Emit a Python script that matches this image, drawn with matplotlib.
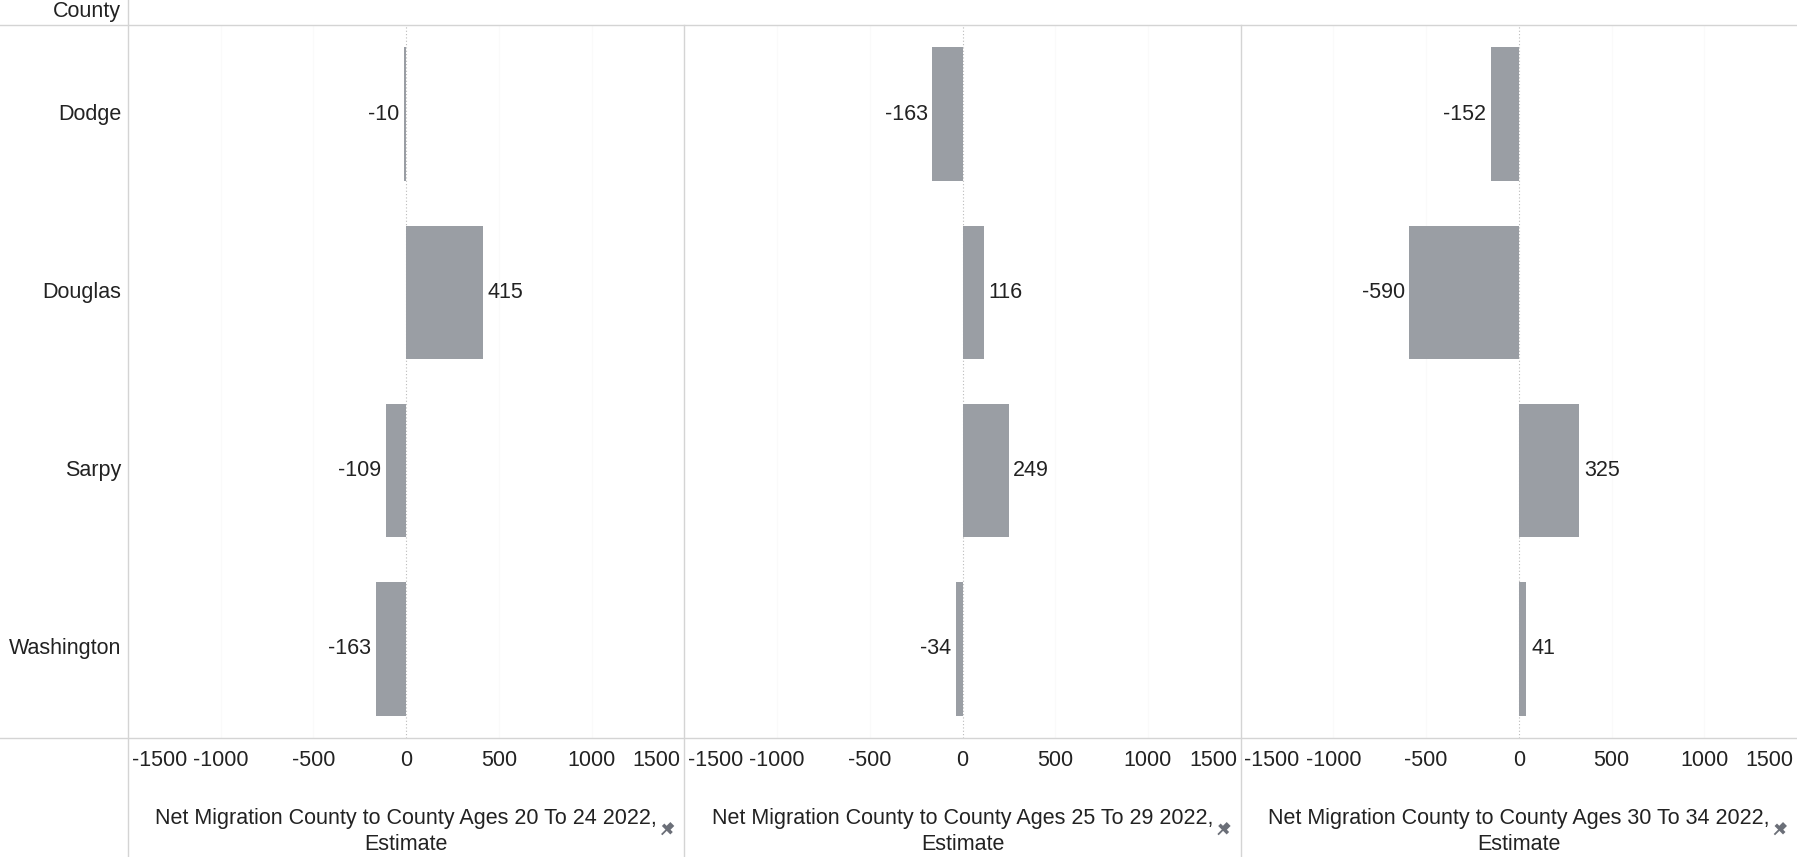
'''Net migration by county, three age groups, side by side bars.'''

import matplotlib.pyplot as plt
from matplotlib.lines import Line2D

# Data
counties = ["Dodge", "Douglas", "Sarpy", "Washington"]
ages_20_24 = [-10, 415, -109, -163]
ages_25_29 = [-163, 116, 249, -34]
ages_30_34 = [-152, -590, 325, 41]
panel_titles = [
    "Net Migration County to County Ages 20 To 24 2022,\nEstimate",
    "Net Migration County to County Ages 25 To 29 2022,\nEstimate",
    "Net Migration County to County Ages 30 To 34 2022,\nEstimate",
]
x_ticks = [-1500, -1000, -500, 0, 500, 1000, 1500]

plt.rcParams["font.family"] = ["Liberation Sans", "DejaVu Sans"]

W, H = 1797, 857
fig = plt.figure(figsize=(W / 100, H / 100), dpi=100)

bar_color = "#9a9ea4"
line_color = "#d4d4d4"
text_color = "#222222"
fs = 15.5

top_px, bottom_px = 25, 738
left_px = 128
panel_w = (W - left_px) / 3


def fx(px):
    return px / W


def fy(py):
    return 1 - py / H


series = [ages_20_24, ages_25_29, ages_30_34]
y_pos = list(range(len(counties)))

for i, (vals, title) in enumerate(zip(series, panel_titles)):
    x0 = left_px + i * panel_w
    ax = fig.add_axes([fx(x0), fy(bottom_px), fx(panel_w), fy(top_px) - fy(bottom_px)])
    ax.barh(y_pos, vals, height=0.75, color=bar_color, edgecolor="none", zorder=2)
    ax.set_xlim(-1500, 1500)
    ax.set_ylim(len(counties) - 0.5, -0.5)

    # very faint gridlines + dotted zero line
    for t in [-1000, -500, 500, 1000]:
        ax.axvline(t, color="#fafafa", linewidth=0.8, zorder=0)
    ax.axvline(0, color="#bbbbbb", linewidth=0.8, linestyle=(0, (1, 2)), zorder=1)

    # value labels
    for y, v in zip(y_pos, vals):
        if v >= 0:
            ax.text(v + 25, y, str(v), va="center", ha="left", fontsize=fs, color=text_color)
        else:
            ax.text(v - 25, y, str(v), va="center", ha="right", fontsize=fs, color=text_color)

    ax.set_xticks([])
    ax.set_yticks([])
    for s in ax.spines.values():
        s.set_visible(False)

    # tick labels below the panel (ends pulled inward)
    for t in x_ticks:
        ha = "center"
        xt = t
        if t == -1500:
            ha = "left"
            xt = t + 20
        elif t == 1500:
            ha = "right"
            xt = t - 20
        fig.text(fx(x0 + (xt + 1500) / 3000 * panel_w), fy(760), str(t),
                 ha=ha, va="center", fontsize=fs, color=text_color)

    cx = x0 + panel_w / 2
    fig.text(fx(cx), fy(808), title, ha="center", va="top", fontsize=fs,
             color=text_color, linespacing=1.3)

    # pin icon (needle + head)
    px, py = x0 + panel_w - 17, 829
    fig.add_artist(Line2D([fx(px - 5), fx(px)], [fy(py + 5), fy(py)],
                          color="#6b6f78", linewidth=1.3))
    fig.add_artist(Line2D([fx(px - 3), fx(px + 3)], [fy(py - 3), fy(py + 3)],
                          color="#6b6f78", linewidth=2.5))
    fig.add_artist(Line2D([fx(px), fx(px + 5)], [fy(py), fy(py - 5)],
                          color="#6b6f78", linewidth=4, solid_capstyle="butt"))

# row labels
for y, name in enumerate(counties):
    py = top_px + (y + 0.5) * (bottom_px - top_px) / len(counties)
    fig.text(fx(121), fy(py), name, ha="right", va="center", fontsize=fs, color=text_color)
fig.text(fx(121), fy(12), "County", ha="right", va="center", fontsize=fs, color=text_color)

# frame lines
fig.add_artist(Line2D([0, 1], [fy(top_px), fy(top_px)], color=line_color, linewidth=1))
fig.add_artist(Line2D([0, 1], [fy(bottom_px), fy(bottom_px)], color=line_color, linewidth=1))
fig.add_artist(Line2D([fx(left_px), fx(left_px)], [0, 1], color=line_color, linewidth=1))
for i in (1, 2):
    xx = fx(left_px + i * panel_w)
    fig.add_artist(Line2D([xx, xx], [0, fy(top_px)], color=line_color, linewidth=1))

fig.savefig("out.png", dpi=100)
